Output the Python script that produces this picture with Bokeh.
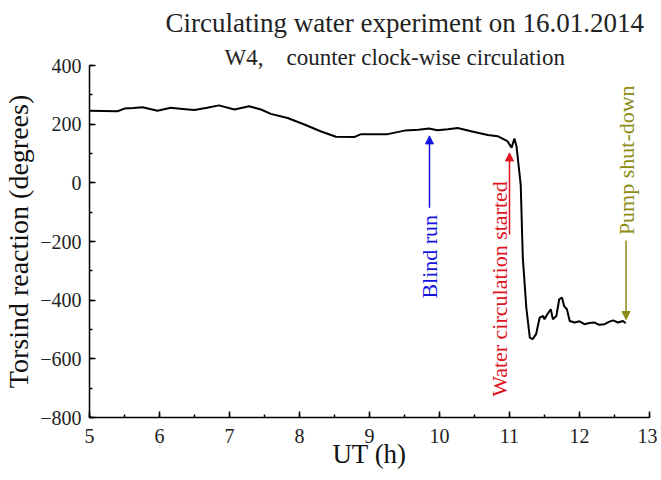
from math import pi
from bokeh.plotting import figure
from bokeh.models import Range1d, SingleIntervalTicker, Label, Arrow, NormalHead, Title
from bokeh.embed import file_html
from bokeh.resources import INLINE

# ---- data ----
ut_hours = [5.00, 5.20, 5.40, 5.50, 5.63, 5.76, 5.97, 6.16, 6.33, 6.50, 6.68, 6.85,
            7.07, 7.28, 7.45, 7.59, 7.83, 8.07, 8.30, 8.52, 8.78, 8.88, 9.26, 9.50,
            9.70, 9.85, 9.97, 10.12, 10.26, 10.45, 10.69, 10.83, 10.97, 11.03, 11.07,
            11.10, 11.16, 11.19, 11.24, 11.29, 11.33, 11.38, 11.43, 11.48, 11.50,
            11.54, 11.59, 11.62, 11.67, 11.71, 11.75, 11.78, 11.82, 11.86, 11.93,
            12.00, 12.07, 12.14, 12.21, 12.28, 12.36, 12.42, 12.48, 12.55, 12.62, 12.66]
torsion_deg = [246, 245, 244, 253, 255, 258, 246, 256, 252, 248, 256, 264,
               250, 261, 250, 235, 221, 199, 176, 157, 156, 166, 166, 178,
               181, 185, 179, 183, 187, 176, 163, 159, 142, 120, 151,
               125, -6, -255, -425, -528, -533, -516, -460, -454, -465,
               -448, -431, -465, -454, -397, -391, -420, -431, -471, -476,
               -472, -482, -478, -476, -484, -482, -474, -469, -476, -471, -479]
assert len(ut_hours) == len(torsion_deg)

title_text = "Circulating water experiment on 16.01.2014"
subtitle_text = "W4,\u00a0\u00a0\u00a0 counter clock-wise circulation"
x_label = "UT (h)"
y_label = "Torsind reaction (degrees)"

# event times (h)
blind_run_t = 9.857
water_start_t = 11.0
pump_stop_t = 12.665

FONT = "Liberation Serif"

p = figure(frame_width=560, frame_height=352, output_backend="svg", toolbar_location=None,
           x_range=Range1d(5, 13), y_range=Range1d(-800, 400),
           min_border_left=84, min_border_right=8, min_border_top=10,
           min_border_bottom=10)
p.outline_line_color = None
p.xgrid.visible = False
p.ygrid.visible = False
p.background_fill_color = "white"
p.border_fill_color = "white"

p.xaxis.ticker = SingleIntervalTicker(interval=1, num_minor_ticks=2)
p.yaxis.ticker = SingleIntervalTicker(interval=200, num_minor_ticks=2)

for ax in (p.xaxis[0], p.yaxis[0]):
    ax.axis_line_color = "black"
    ax.axis_line_width = 1.5
    ax.major_tick_in = 6
    ax.major_tick_out = 0
    ax.minor_tick_in = 3
    ax.minor_tick_out = 0
    ax.major_tick_line_color = "black"
    ax.minor_tick_line_color = "black"
    ax.major_tick_line_width = 1.5
    ax.minor_tick_line_width = 1.5
    ax.major_label_text_font = FONT
    ax.major_label_text_font_size = "20px"
    ax.major_label_text_color = "#222222"
    ax.axis_label_text_font = FONT
    ax.axis_label_text_font_style = "normal"
    ax.axis_label_text_color = "#111111"

p.xaxis.axis_label = x_label
p.yaxis.axis_label = y_label
p.xaxis.axis_label_text_font_size = "27px"
p.yaxis.axis_label_text_font_size = "28px"
p.xaxis.major_label_standoff = 11
p.xaxis.axis_label_standoff = -7
p.yaxis.major_label_standoff = 8
p.yaxis.axis_label_standoff = 3

# titles: subtitle first (closest to frame), then main title
p.add_layout(Title(text=subtitle_text, text_font=FONT, text_font_size="23px",
                   text_font_style="normal", text_color="#222222",
                   align="left", offset=135, standoff=-9,
                   vertical_align="bottom"), "above")
p.add_layout(Title(text=title_text, text_font=FONT, text_font_size="27px",
                   text_font_style="normal", text_color="#222222",
                   align="left", offset=76, standoff=15,
                   vertical_align="top"), "above")

p.line(ut_hours, torsion_deg, line_color="black", line_width=2)

BLUE = "#1414dc"
RED = "#e0141e"
OLIVE = "#8c8c14"

def event(x_arrow, y0, y1, color, x_text, y_text, text):
    p.add_layout(Arrow(x_start=x_arrow, y_start=y0, x_end=x_arrow, y_end=y1,
                       line_color=color, line_width=1.5,
                       end=NormalHead(size=8, fill_color=color, line_color=color)))
    p.add_layout(Label(x=x_text, y=y_text, text=text, angle=pi / 2,
                       text_font=FONT, text_font_size="22px", text_color=color,
                       text_align="center", text_baseline="middle"))

event(blind_run_t, -85, 160, BLUE, blind_run_t, -252, "Blind run")
event(water_start_t, -176, 102, RED, 10.86, -362, "Water circulation started")
event(pump_stop_t, -197, -466, OLIVE, pump_stop_t, 77, "Pump shut-down")

open("out.html", "w").write(file_html(p, INLINE))
